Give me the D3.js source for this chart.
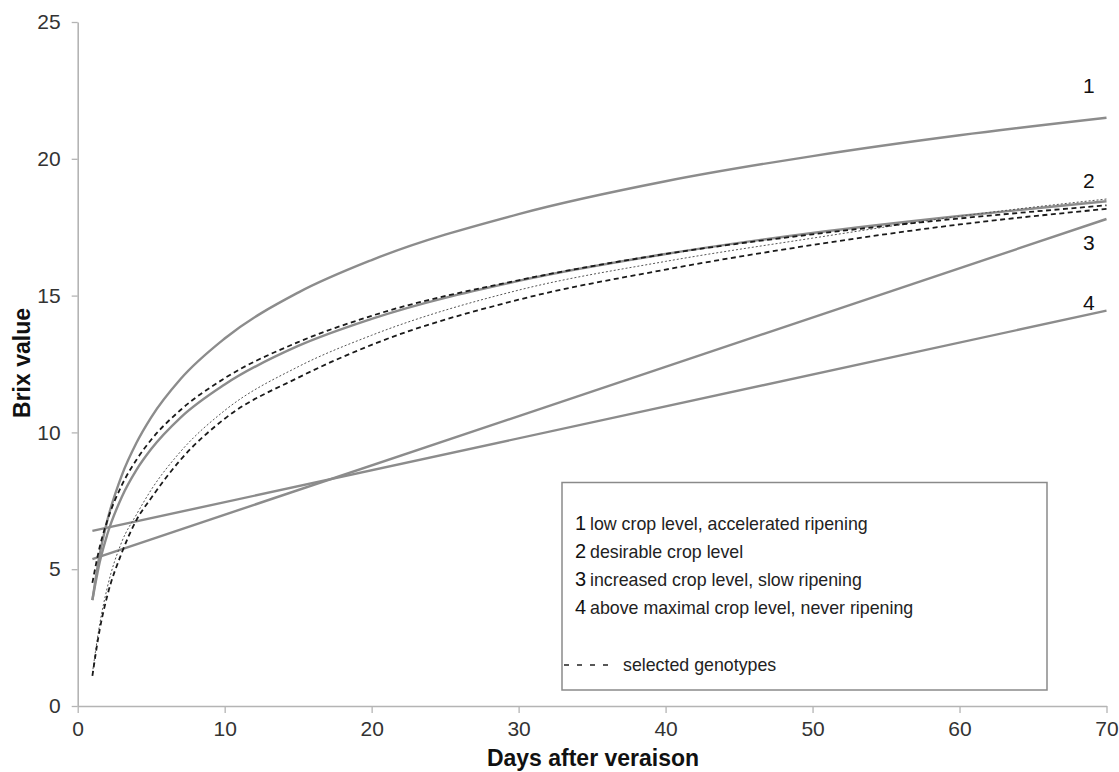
<!DOCTYPE html>
<html>
<head>
<meta charset="utf-8">
<script src="https://cdn.jsdelivr.net/npm/d3@7"></script>
<style>
  html, body { margin: 0; padding: 0; background: #fff; }
  svg { display: block; font-family: "Liberation Sans", Arial, sans-serif; }
</style>
</head>
<body>
<div id="chart"></div>
<script>
// values
const days = [1, 1.5, 2, 3, 4, 5, 7, 10, 15, 20, 30, 40, 50, 60, 70];
const curve1 = [3.87, 5.55, 6.75, 8.43, 9.62, 10.55, 11.95, 13.43, 15.11, 16.3, 17.98, 19.18, 20.1, 20.86, 21.5];
const curve2 = [3.87, 5.26, 6.25, 7.64, 8.63, 9.39, 10.54, 11.75, 13.16, 14.15, 15.54, 16.52, 17.29, 17.91, 18.45];
const genoUpper = [4.5, 5.82, 6.75, 8.07, 9.0, 9.73, 10.82, 11.98, 13.3, 14.26, 15.56, 16.52, 17.24, 17.82, 18.3];
const genoLower = [1.1, 2.8, 4.0, 5.6, 6.8, 7.6, 9.0, 10.5, 12.0, 13.2, 14.85, 15.95, 16.85, 17.6, 18.17];
const genoDotted = [1.2, 3.0, 4.3, 6.0, 7.0, 7.9, 9.3, 10.8, 12.4, 13.55, 15.2, 16.25, 17.1, 17.9, 18.53];

const lineDays = [1, 70];
const line3 = [5.37, 17.8];
const line4 = [6.4, 14.45];

const xTicks = [0, 10, 20, 30, 40, 50, 60, 70];
const yTicks = [0, 5, 10, 15, 20, 25];

const seriesLabels = ["1", "2", "3", "4"];
const legendNumbers = ["1", "2", "3", "4"];
const legendTexts = [
  "low crop level, accelerated ripening",
  "desirable crop level",
  "increased crop level, slow ripening",
  "above maximal crop level, never ripening"
];
const genotypeText = "selected genotypes";

const width = 1119, height = 772;
const margin = { left: 77.7, right: 12.5, top: 22, bottom: 66 };

const svg = d3.select("#chart").append("svg")
  .attr("width", width)
  .attr("height", height);

const x = d3.scaleLinear().domain([0, 70]).range([margin.left, width - margin.right]);
const y = d3.scaleLinear().domain([0, 25]).range([height - margin.bottom, margin.top]);

// axes
const xAxis = svg.append("g")
  .attr("transform", `translate(0,${y(0)})`)
  .call(d3.axisBottom(x).tickValues(xTicks).tickSize(7).tickSizeOuter(0).tickPadding(8));
const yAxis = svg.append("g")
  .attr("transform", `translate(${x(0)},0)`)
  .call(d3.axisLeft(y).tickValues(yTicks).tickSize(6).tickSizeOuter(0).tickPadding(11));

[xAxis, yAxis].forEach(ax => {
  ax.select(".domain").attr("stroke", "#b4b4b4").attr("stroke-width", 1.6);
  ax.selectAll(".tick line").attr("stroke", "#b4b4b4").attr("stroke-width", 1.3);
  ax.selectAll(".tick text")
    .attr("fill", "#333")
    .attr("font-size", 21)
    .attr("font-family", "Liberation Sans, Arial, sans-serif");
});

// axis titles
svg.append("text")
  .attr("x", 593)
  .attr("y", 766)
  .attr("text-anchor", "middle")
  .attr("font-size", 23)
  .attr("font-weight", "bold")
  .attr("fill", "#111")
  .text("Days after veraison");

svg.append("text")
  .attr("transform", `translate(30,${y(12.5) - 1}) rotate(-90)`)
  .attr("text-anchor", "middle")
  .attr("font-size", 23)
  .attr("font-weight", "bold")
  .attr("fill", "#111")
  .text("Brix value");

// series
const line = d3.line()
  .x(d => x(d[0]))
  .y(d => y(d[1]))
  .curve(d3.curveMonotoneX);

const pairs = vals => days.map((d, i) => [d, vals[i]]);
const linePairs = vals => lineDays.map((d, i) => [d, vals[i]]);

const plot = svg.append("g").attr("fill", "none");

// straight lines 3 and 4
[line3, line4].forEach(v => {
  plot.append("path")
    .attr("d", line(linePairs(v)))
    .attr("stroke", "#8c8c8c")
    .attr("stroke-width", 2.4);
});

// solid curves 1 and 2
[curve1, curve2].forEach(v => {
  plot.append("path")
    .attr("d", line(pairs(v)))
    .attr("stroke", "#8c8c8c")
    .attr("stroke-width", 2.4);
});

// dotted genotype
plot.append("path")
  .attr("d", line(pairs(genoDotted)))
  .attr("stroke", "#555")
  .attr("stroke-width", 1)
  .attr("stroke-dasharray", "2,2");

// dashed genotypes
[genoUpper, genoLower].forEach(v => {
  plot.append("path")
    .attr("d", line(pairs(v)))
    .attr("stroke", "#1a1a1a")
    .attr("stroke-width", 1.8)
    .attr("stroke-dasharray", "5,3.5");
});

// series number labels at the right end
const labelY = [22.4, 18.93, 16.67, 14.47];
svg.append("g")
  .selectAll("text")
  .data(seriesLabels)
  .join("text")
  .attr("x", x(68.8))
  .attr("y", (d, i) => y(labelY[i]))
  .attr("text-anchor", "middle")
  .attr("font-size", 21)
  .attr("fill", "#111")
  .text(d => d);

// legend box
const legend = svg.append("g");
legend.append("rect")
  .attr("x", 562)
  .attr("y", 482.5)
  .attr("width", 485)
  .attr("height", 207.5)
  .attr("fill", "#fff")
  .attr("stroke", "#8a8a8a")
  .attr("stroke-width", 1.5);

const rows = legend.selectAll("g.row")
  .data(legendTexts)
  .join("g")
  .attr("class", "row")
  .attr("transform", (d, i) => `translate(575,${529.5 + i * 28.2})`);

rows.append("text")
  .attr("font-size", 20)
  .attr("fill", "#111")
  .text((d, i) => legendNumbers[i]);

rows.append("text")
  .attr("x", 15)
  .attr("font-size", 17.8)
  .attr("fill", "#222")
  .text(d => d);

legend.append("line")
  .attr("x1", 564)
  .attr("x2", 615)
  .attr("y1", 665)
  .attr("y2", 665)
  .attr("stroke", "#222")
  .attr("stroke-width", 1.4)
  .attr("stroke-dasharray", "5,8");

legend.append("text")
  .attr("x", 623)
  .attr("y", 670.5)
  .attr("font-size", 17.8)
  .attr("fill", "#222")
  .text(genotypeText);
</script>
</body>
</html>
